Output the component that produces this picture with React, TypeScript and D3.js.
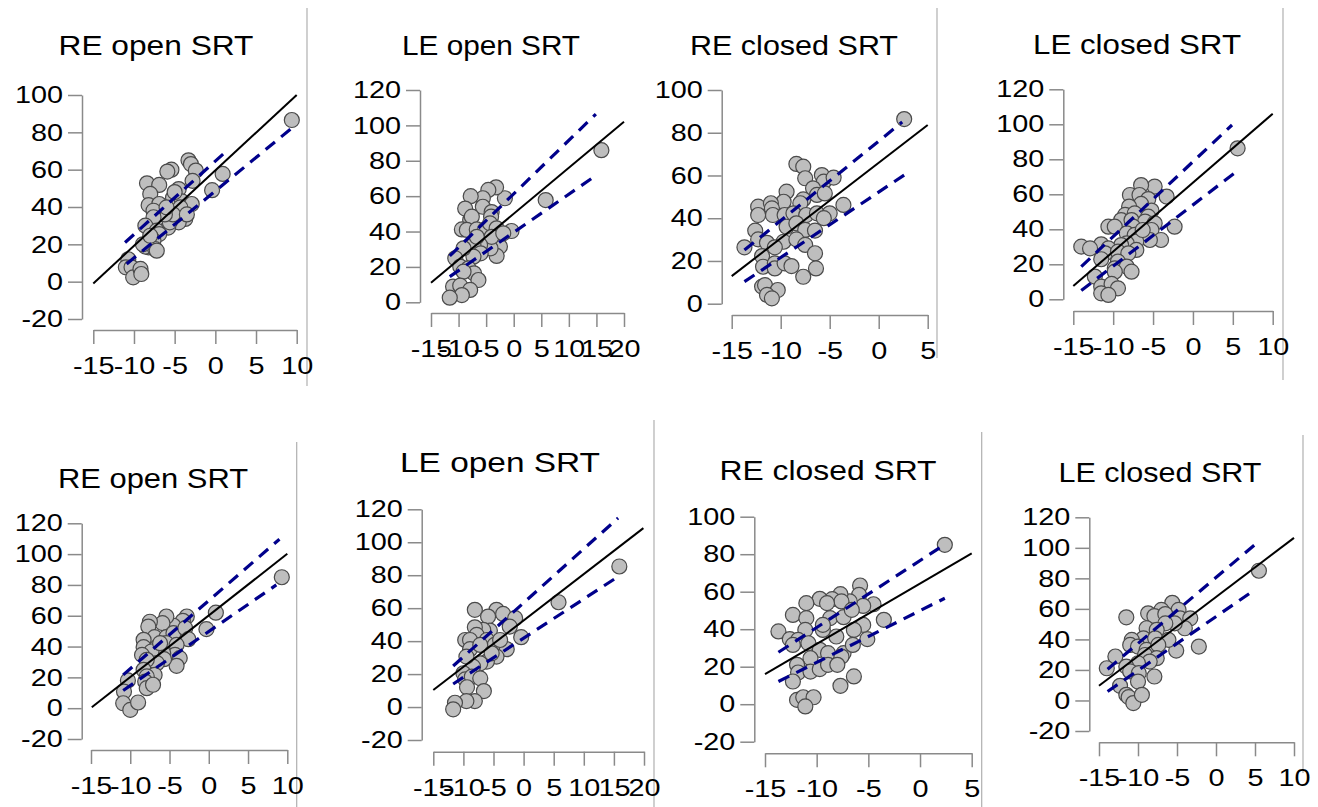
import React, { useEffect, useRef } from 'react'
import * as d3 from 'd3'

type Pt = [number, number]

// titles and tick values
const titles = ['RE open SRT', 'LE open SRT', 'RE closed SRT', 'LE closed SRT',
  'RE open SRT', 'LE open SRT', 'RE closed SRT', 'LE closed SRT']

const xTicksA = [-15, -10, -5, 0, 5, 10]
const xTicksB = [-15, -10, -5, 0, 5, 10, 15, 20]
const xTicksC = [-15, -10, -5, 0, 5]
const yTicks100 = [-20, 0, 20, 40, 60, 80, 100]
const yTicks120 = [-20, 0, 20, 40, 60, 80, 100, 120]
const yTicks0to120 = [0, 20, 40, 60, 80, 100, 120]
const yTicks0to100 = [0, 20, 40, 60, 80, 100]

const pts1: Pt[] = [[9.4,86.6],[0.9,57.7],[-0.4,49],[-3.3,65],[-3.0,63],[-2.4,59.5],[-2.8,54],[-5.4,60],[-5.9,59],[-8.4,52.7],[-6.9,51.8],[-8.0,47],[-8.2,41],[-6.9,41.6],[-4.5,49.6],[-5.2,45],[-4.1,43],[-2.9,41.6],[-4.3,39.8],[-3.7,33.6],[-4.5,31.8],[-5.8,29],[-5.6,31.8],[-5.2,36],[-6.2,36],[-7.6,38],[-7.6,34.5],[-8.6,30],[-7.2,27.3],[-6.9,25.5],[-7.6,22],[-8.2,18.4],[-8.6,18.8],[-7.4,17.5],[-7.2,16.6],[-8.9,20],[-10.7,12],[-11.0,7.7],[-10.3,7.7],[-10.1,2.3],[-9.2,6.8],[-9.1,4.1],[-6.0,39.8],[-5.0,48],[-8.0,24.6],[-3.5,36]]
const pts2: Pt[] = [[15.9,86],[5.8,57.8],[-0.4,40.3],[-1.6,58.8],[-3.2,65],[-4.6,63.5],[-5.6,58.8],[-7.8,60],[-5.6,54],[-4.0,51],[-4.1,48.4],[-8.8,53],[-7.9,46.5],[-7.6,48.4],[-9.4,41.2],[-8.5,40.9],[-6.7,41.2],[-5.2,41.2],[-4.3,44.6],[-3.1,41.8],[-2.5,31.5],[-3.1,26.2],[-4.2,30.5],[-4.0,37],[-6.1,32.4],[-7.3,32.4],[-6.0,27.7],[-7.3,25.8],[-9.1,30.5],[-10.6,24.9],[-9.7,20.2],[-8.2,19.2],[-7.2,16.4],[-6.4,12.6],[-9.1,17.3],[-11.0,8.9],[-9.7,9.4],[-7.9,7],[-9.4,4.1],[-11.6,2.6],[-1.9,39],[-6.7,37]]
const pts3: Pt[] = [[2.6,86.4],[-8.4,65.4],[-7.7,64.1],[-7.5,58.7],[-5.8,60.2],[-5.6,57.1],[-4.6,59],[-6.7,54],[-6.3,50.9],[-5.5,51.6],[-9.4,52.4],[-7.7,48.8],[-8.0,47],[-9.7,47.7],[-12.3,45.4],[-11.0,47],[-10.9,44.6],[-10.8,41.5],[-12.3,41.5],[-9.6,41.5],[-8.7,42.3],[-7.4,41.5],[-6.3,42.3],[-5.0,42.3],[-5.6,40],[-3.6,46.2],[-9.4,36],[-8.4,37.6],[-7.5,34.5],[-6.5,34.2],[-12.6,34.2],[-12.3,30.1],[-11.4,28.5],[-9.7,29],[-8.4,30.1],[-7.5,27.5],[-10.6,26.4],[-13.7,26.4],[-11.9,22.3],[-11.8,17.3],[-10.6,18.9],[-10.6,16.5],[-9.6,18.9],[-8.9,17.6],[-6.5,23.6],[-6.4,16.5],[-7.7,12.6],[-11.9,8],[-11.6,8.7],[-10.3,6.4],[-11.4,4.1],[-10.9,2.5]]
const pts4: Pt[] = [[5.6,86.3],[-2.3,41.5],[-3.3,58.7],[-4.8,64.4],[-6.5,65.3],[-7.9,59.6],[-6.7,59.6],[-5.6,57.3],[-6.5,54.5],[-8.0,53],[-8.5,48.2],[-7.3,49.1],[-5.2,50.7],[-5.6,47.2],[-9.0,45.3],[-7.7,45.3],[-6.0,44.4],[-4.8,43.4],[-5.2,39.6],[-4.0,33.9],[-5.4,33.9],[-7.5,41.5],[-10.6,41.5],[-9.8,41.5],[-8.3,37.7],[-7.3,36.8],[-7.1,33],[-8.3,32],[-7.1,28.2],[-9.0,31],[-11.5,31.4],[-10.6,29.1],[-14.0,30.1],[-12.9,29.1],[-11.0,26.3],[-9.4,27.2],[-8.1,26.3],[-11.5,22.9],[-9.4,21.5],[-9.8,17.7],[-8.3,18.7],[-7.7,15.8],[-9.8,15.8],[-12.3,13],[-11.5,7.2],[-10.2,8.8],[-9.4,6.3],[-11.5,3.4],[-10.6,2.5],[-6.3,39.6]]
const pts5: Pt[] = [[9.3,85],[-0.3,51.3],[0.9,62],[-2.8,59.5],[-3.3,56.7],[-4.5,53.5],[-5.4,59.5],[-5.9,55.2],[-7.5,56.1],[-7.7,53],[-6.9,46.1],[-5.4,46.1],[-4.5,48.7],[-3.0,51.9],[-2.6,44.8],[-8.3,44.4],[-8.3,39.6],[-6.6,39.6],[-5.4,42.2],[-4.1,41.1],[-4.3,34.6],[-5.8,35.7],[-7.3,36.8],[-8.5,34.6],[-3.7,32.5],[-4.1,27.5],[-5.7,31.8],[-6.6,29.2],[-7.9,31.4],[-8.3,24.9],[-6.9,21.6],[-7.9,20.6],[-8.1,17.3],[-7.9,13],[-7.1,15.2],[-10.3,18],[-10.8,10.8],[-10.9,3.2],[-10.0,-1.1],[-9.0,3.7],[-6.2,42.2]]
const pts6: Pt[] = [[15.9,85.3],[5.8,63.6],[-0.4,42.4],[-8.1,59],[-4.5,59],[-5.9,54.9],[-3.4,56.5],[-1.4,53.9],[-2.3,48.8],[-5.6,46.4],[-6.7,46.8],[-8.1,48.4],[-7.8,43.8],[-9.7,40.7],[-8.9,40.7],[-6.1,40.7],[-4.8,37.7],[-2.8,35.1],[-8.9,35.1],[-7.2,37.7],[-4.5,30.6],[-6.1,27.6],[-7.2,26.5],[-8.4,24.5],[-9.5,30.6],[-10.0,20.5],[-9.7,16.8],[-8.6,18.4],[-7.2,17.4],[-9.4,12],[-6.6,9.7],[-8.1,3.6],[-9.5,3.6],[-11.4,2.6],[-11.7,-1.4],[-3.9,40.7],[-5.3,32.6]]
const pts7: Pt[] = [[2.4,85],[-3.5,45],[-5.1,34.7],[-4.5,53.3],[-5.8,63.3],[-5.9,58.3],[-5.5,52.4],[-6.8,54.8],[-7.7,58.7],[-8.5,56],[-7.6,54.8],[-9.7,56.2],[-9.0,53.9],[-11.0,53.9],[-12.3,47.6],[-11.0,45.9],[-8.7,45.9],[-7.4,46.4],[-6.6,50.3],[-5.5,42.3],[-6.4,39.6],[-9.4,39.6],[-9.4,42.3],[-11.1,39.6],[-13.7,38.8],[-12.6,34.7],[-11.8,34.3],[-12.3,31.6],[-10.8,32.5],[-8.1,36.1],[-9.7,29],[-8.9,27.2],[-7.4,27.2],[-7.6,25.4],[-6.5,31.6],[-10.6,24.5],[-11.9,21],[-11.8,16.9],[-10.6,17.4],[-9.7,18.7],[-8.9,21],[-8.0,21],[-12.3,12.1],[-6.4,14.8],[-7.7,9.8],[-11.9,2.3],[-11.3,3.7],[-10.3,3.7],[-11.1,-1.2]]
const pts8: Pt[] = [[5.5,85],[-2.2,35.3],[-5.1,32.7],[-5.6,64],[-7.0,59.3],[-4.8,59.3],[-8.7,57.1],[-7.9,55.3],[-6.5,56.6],[-4.6,53.8],[-3.3,53.8],[-4.0,47.3],[-5.3,50.5],[-6.5,50.5],[-8.9,47.3],[-7.6,46.2],[-9.3,40.7],[-7.8,40.7],[-6.1,39.7],[-10.8,39.7],[-11.0,36.4],[-10.0,35.3],[-8.9,33.1],[-7.4,36.4],[-9.1,29.8],[-7.6,27.7],[-8.5,25.5],[-10.0,24.4],[-11.5,54.5],[-12.9,28.8],[-14.0,21.1],[-11.5,22.2],[-11.0,19],[-9.9,17.9],[-10.0,12.4],[-7.9,15.7],[-12.3,9.6],[-11.5,3.7],[-11.2,2.2],[-10.6,-1.7],[-9.5,3.7]]

// fitted line and dashed band ends, in data units
const fits: Pt[][] = [
  [[-15, -1], [10, 100]], [[-15, 11.1], [20, 102]], [[-15, 12.9], [5, 83.6]], [[-15, 7.6], [10, 106]],
  [[-14.9, 0.6], [10, 100.2]], [[-15, 10.3], [19.9, 108.6]], [[-15, 16], [5, 80.5]], [[-15, 9.6], [10, 106.5]]
]
const uppers: Pt[][] = [
  [[-11.1, 21], [1.0, 68.5]], [[-11.6, 26.2], [14.9, 106.4]], [[-13.7, 25.1], [2.4, 85]], [[-14, 18.7], [4.9, 99.6]],
  [[-10.9, 21.6], [9.0, 109.7]], [[-11.7, 24.9], [15.7, 114.7]], [[-13.7, 27.7], [2.1, 84.1]], [[-13.9, 20.5], [5.4, 103.9]]
]
const lowers: Pt[][] = [
  [[-10.9, 9.5], [9.6, 83]], [[-11.6, 14.5], [14.4, 70.6]], [[-13.7, 10.3], [2.6, 60.2]], [[-14, 5], [5.6, 73.5]],
  [[-10.9, 11.5], [8.6, 80]], [[-11.7, 14], [15.3, 78.2]], [[-13.7, 12.1], [2.4, 56.5]], [[-13.9, 5.9], [4.6, 71.2]]
]

const points = [pts1, pts2, pts3, pts4, pts5, pts6, pts7, pts8]
const xTicks = [xTicksA, xTicksB, xTicksC, xTicksA, xTicksA, xTicksB, xTicksC, xTicksA]
const yTicks = [yTicks100, yTicks0to120, yTicks0to100, yTicks0to120, yTicks120, yTicks120, yTicks100, yTicks120]

// pixel layout of each panel
const layout = [
  { ax: 82, y0: 319, y1: 95, xa: 330, x0: 93.3, x1: 296.7, tx: 156, ty: 55, tw: 195 },
  { ax: 420, y0: 302.3, y1: 90, xa: 313, x0: 431, x1: 624, tx: 491, ty: 55, tw: 178 },
  { ax: 721.7, y0: 303.7, y1: 90, xa: 315, x0: 731.7, x1: 927.7, tx: 794, ty: 55, tw: 208 },
  { ax: 1063.3, y0: 299.3, y1: 89.3, xa: 311, x0: 1073.3, x1: 1272.7, tx: 1137, ty: 54, tw: 208 },
  { ax: 81.7, y0: 739, y1: 523.3, xa: 750, x0: 91, x1: 287.3, tx: 153, ty: 488, tw: 190 },
  { ax: 421.7, y0: 740, y1: 509.3, xa: 751.7, x0: 433.3, x1: 644, tx: 500, ty: 472, tw: 200 },
  { ax: 754.3, y0: 741.7, y1: 516.7, xa: 753.3, x0: 765, x1: 971.7, tx: 828, ty: 480, tw: 217 },
  { ax: 1089.3, y0: 731, y1: 517.3, xa: 742.3, x0: 1099, x1: 1294, tx: 1160, ty: 482, tw: 203 }
]

const separators = [
  [307, 8, 386], [937, 8, 358], [1283, 8, 380],
  [296.7, 442, 807], [654, 420, 807], [981.7, 432, 807], [1303, 435, 773]
]

const FONT = "'Liberation Sans', Arial, Helvetica, sans-serif"
const AXIS = '#8a8a8a'
const STRETCH = 1.2

export default function App() {
  const ref = useRef<SVGSVGElement>(null)

  useEffect(() => {
    const svg = d3.select(ref.current)
    svg.selectAll('*').remove()

    svg.selectAll('line.sep')
      .data(separators)
      .enter()
      .append('line')
      .attr('class', 'sep')
      .attr('x1', d => d[0]).attr('x2', d => d[0])
      .attr('y1', d => d[1]).attr('y2', d => d[2])
      .attr('stroke', '#b0b0b0')
      .attr('stroke-width', 1.2)

    layout.forEach((L, i) => {
      const xt = xTicks[i]
      const yt = yTicks[i]
      const x = d3.scaleLinear().domain([xt[0], xt[xt.length - 1]]).range([L.x0, L.x1])
      const y = d3.scaleLinear().domain([yt[0], yt[yt.length - 1]]).range([L.y0, L.y1])
      const g = svg.append('g')

      g.append('text')
        .attr('transform', 'translate(' + L.tx + ',' + L.ty + ')')
        .attr('text-anchor', 'middle')
        .attr('font-family', FONT)
        .attr('font-size', 28)
        .attr('fill', '#000')
        .attr('textLength', L.tw)
        .attr('lengthAdjust', 'spacingAndGlyphs')
        .text(titles[i])

      g.selectAll('circle')
        .data(points[i])
        .enter()
        .append('circle')
        .attr('cx', d => x(d[0]))
        .attr('cy', d => y(d[1]))
        .attr('r', 7.5)
        .attr('fill', '#bebebe')
        .attr('stroke', '#4a4a4a')
        .attr('stroke-width', 1.2)

      const line = d3.line<Pt>().x(d => x(d[0])).y(d => y(d[1]))

      g.append('path').attr('d', line(fits[i]))
        .attr('stroke', '#000').attr('stroke-width', 2).attr('fill', 'none')
      ;[uppers[i], lowers[i]].forEach(band => {
        g.append('path').attr('d', line(band))
          .attr('stroke', '#00008b').attr('stroke-width', 3.2)
          .attr('stroke-dasharray', '12 8').attr('fill', 'none')
      })

      const xAxis = g.append('g')
        .attr('transform', 'translate(0,' + L.xa + ')')
        .call(d3.axisBottom(x).tickValues(xt).tickSize(14).tickSizeOuter(0).tickPadding(13)
          .tickFormat(d => String(d)))
      const yAxis = g.append('g')
        .attr('transform', 'translate(' + L.ax + ',0)')
        .call(d3.axisLeft(y).tickValues(yt).tickSize(14).tickSizeOuter(0).tickPadding(5)
          .tickFormat(d => String(d)))

      ;[xAxis, yAxis].forEach(a => {
        a.attr('font-size', 24).attr('font-family', FONT)
        a.select('.domain').attr('stroke', AXIS).attr('stroke-width', 1.5)
        a.selectAll('.tick line').attr('stroke', AXIS).attr('stroke-width', 1.5)
        a.selectAll('.tick text').attr('fill', '#000')
          .attr('transform', 'scale(' + STRETCH + ',1)')
      })
      yAxis.selectAll('.tick text').attr('x', -19 / STRETCH)
    })
  }, [])

  return (
    <svg ref={ref} width={1318} height={807}
      style={{ position: 'absolute', left: 0, top: 0, background: '#fff' }} />
  )
}
